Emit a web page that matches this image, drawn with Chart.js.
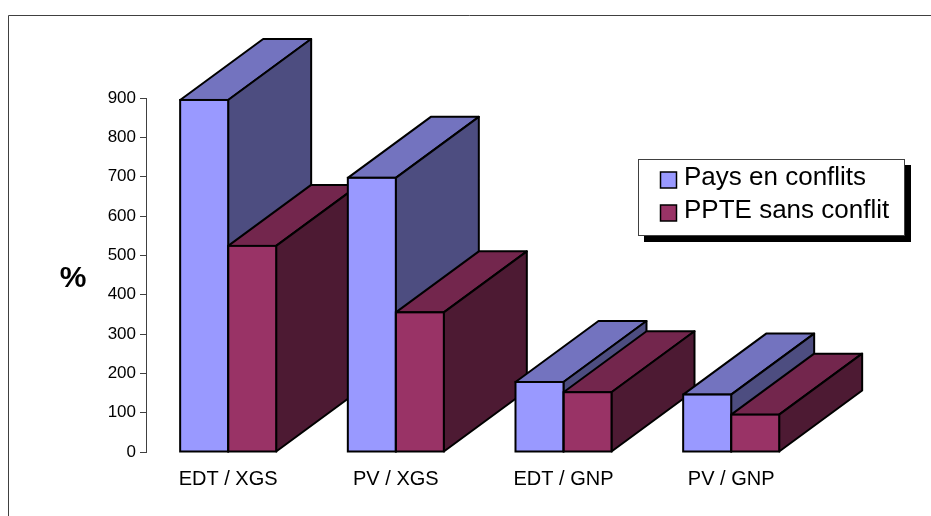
<!DOCTYPE html>
<html>
<head>
<meta charset="utf-8">
<title>Pays en conflits</title>
<script src="https://cdn.jsdelivr.net/npm/chart.js@4"></script>
<style>
    html, body { margin: 0; padding: 0; background: #fff; }
    #wrap { width: 931px; height: 516px; }
</style>
</head>
<body>
<div id="wrap"><canvas id="debtChart" width="931" height="516"></canvas></div>
<script>
const categories = ['EDT / XGS', 'PV / XGS', 'EDT / GNP', 'PV / GNP'];
const conflictValues = [895, 697, 178, 146];
const noConflictValues = [524, 355, 152, 95];
const yTicks = [0, 100, 200, 300, 400, 500, 600, 700, 800, 900];

const seriesNames = ['Pays en conflits', 'PPTE sans conflit'];
const frontColors = ['#9999FF', '#993366'];
const topColors = ['#7373BF', '#73264D'];
const sideColors = ['#4D4D80', '#4D1A33'];

// depth of the fake 3D boxes, in pixels
const depthX = 83;
const depthY = 61;

function poly(ctx, pts, fill) {
    ctx.beginPath();
    pts.forEach((p, i) => i ? ctx.lineTo(p[0], p[1]) : ctx.moveTo(p[0], p[1]));
    ctx.closePath();
    ctx.fillStyle = fill;
    ctx.fill();
    ctx.stroke();
}

const boxes3d = {
    id: 'boxes3d',
    // top and side faces go under the bars, left to right, blue before maroon
    beforeDatasetsDraw(chart) {
        const ctx = chart.ctx;
        ctx.save();
        ctx.strokeStyle = '#000';
        ctx.lineWidth = 2;
        ctx.lineJoin = 'round';
        categories.forEach((c, i) => {
            seriesNames.forEach((s, d) => {
                const bar = chart.getDatasetMeta(d).data[i];
                const l = bar.x - bar.width / 2;
                const r = bar.x + bar.width / 2;
                const t = bar.y;
                const b = bar.base;
                poly(ctx, [[l, t], [l + depthX, t - depthY], [r + depthX, t - depthY], [r, t]], topColors[d]);
                poly(ctx, [[r, t], [r + depthX, t - depthY], [r + depthX, b - depthY], [r, b]], sideColors[d]);
            });
        });
        ctx.restore();
    },
    // outlines of the front faces, the legend box and the % label
    afterDatasetsDraw(chart) {
        const ctx = chart.ctx;
        ctx.save();
        ctx.strokeStyle = '#000';
        ctx.lineWidth = 2;
        seriesNames.forEach((s, d) => {
            chart.getDatasetMeta(d).data.forEach(bar => {
                ctx.strokeRect(bar.x - bar.width / 2, bar.y, bar.width, bar.base - bar.y);
            });
        });

        ctx.fillStyle = '#000';
        ctx.fillRect(644, 165, 267, 77);
        ctx.fillStyle = '#fff';
        ctx.fillRect(638.5, 159.5, 266, 76);
        ctx.strokeStyle = '#404040';
        ctx.lineWidth = 1;
        ctx.strokeRect(638.5, 159.5, 266, 76);

        ctx.font = '26px "Liberation Sans"';
        ctx.textBaseline = 'alphabetic';
        seriesNames.forEach((s, d) => {
            const y = 172 + d * 33;
            ctx.fillStyle = frontColors[d];
            ctx.strokeStyle = '#000';
            ctx.lineWidth = 1.5;
            ctx.fillRect(660.5, y, 16, 16);
            ctx.strokeRect(660.5, y, 16, 16);
            ctx.fillStyle = '#000';
            ctx.fillText(s, 684, y + 13);
        });

        ctx.font = 'bold 30px "Liberation Sans"';
        ctx.textAlign = 'center';
        ctx.fillStyle = '#000';
        ctx.fillText('%', 73, 287);
        ctx.restore();
    }
};

// the reference only has the top and left edges of its frame
const pageFrame = {
    id: 'pageFrame',
    beforeDraw(chart) {
        const ctx = chart.ctx;
        ctx.save();
        ctx.strokeStyle = '#404040';
        ctx.lineWidth = 1;
        ctx.beginPath();
        ctx.moveTo(8.5, 516);
        ctx.lineTo(8.5, 15.5);
        ctx.lineTo(931, 15.5);
        ctx.stroke();
        ctx.restore();
    }
};

new Chart(document.getElementById('debtChart').getContext('2d'), {
    type: 'bar',
    data: {
        datasets: [
            {
                label: seriesNames[0],
                data: conflictValues.map((v, i) => ({ x: i, y: v })),
                backgroundColor: frontColors[0]
            },
            {
                label: seriesNames[1],
                data: noConflictValues.map((v, i) => ({ x: i, y: v })),
                backgroundColor: frontColors[1]
            }
        ]
    },
    options: {
        responsive: false,
        animation: false,
        barThickness: 48,
        layout: { padding: { left: 0, top: 98, right: 116, bottom: 0 } },
        plugins: {
            legend: { display: false },
            tooltip: { enabled: false }
        },
        scales: {
            x: {
                type: 'linear',
                offset: false,
                min: -0.49,
                max: 3.5,
                afterBuildTicks(scale) {
                    scale.ticks = categories.map((c, i) => ({ value: i }));
                },
                afterFit(scale) {
                    scale.height = 64;
                },
                grid: { display: false },
                border: { display: false },
                ticks: {
                    autoSkip: false,
                    maxRotation: 0,
                    padding: 7,
                    color: '#000',
                    font: { family: '"Liberation Sans"', size: 20 },
                    callback: v => categories[v]
                }
            },
            y: {
                min: 0,
                max: 900,
                afterBuildTicks(scale) {
                    scale.ticks = yTicks.map(v => ({ value: v }));
                },
                afterFit(scale) {
                    scale.width = 146;
                },
                grid: { drawOnChartArea: false, drawTicks: true, tickLength: 6, color: '#404040' },
                border: { display: true, color: '#404040', width: 1 },
                ticks: {
                    padding: 4,
                    color: '#000',
                    font: { family: '"Liberation Sans"', size: 17 }
                }
            }
        }
    },
    plugins: [pageFrame, boxes3d]
});
</script>
</body>
</html>
